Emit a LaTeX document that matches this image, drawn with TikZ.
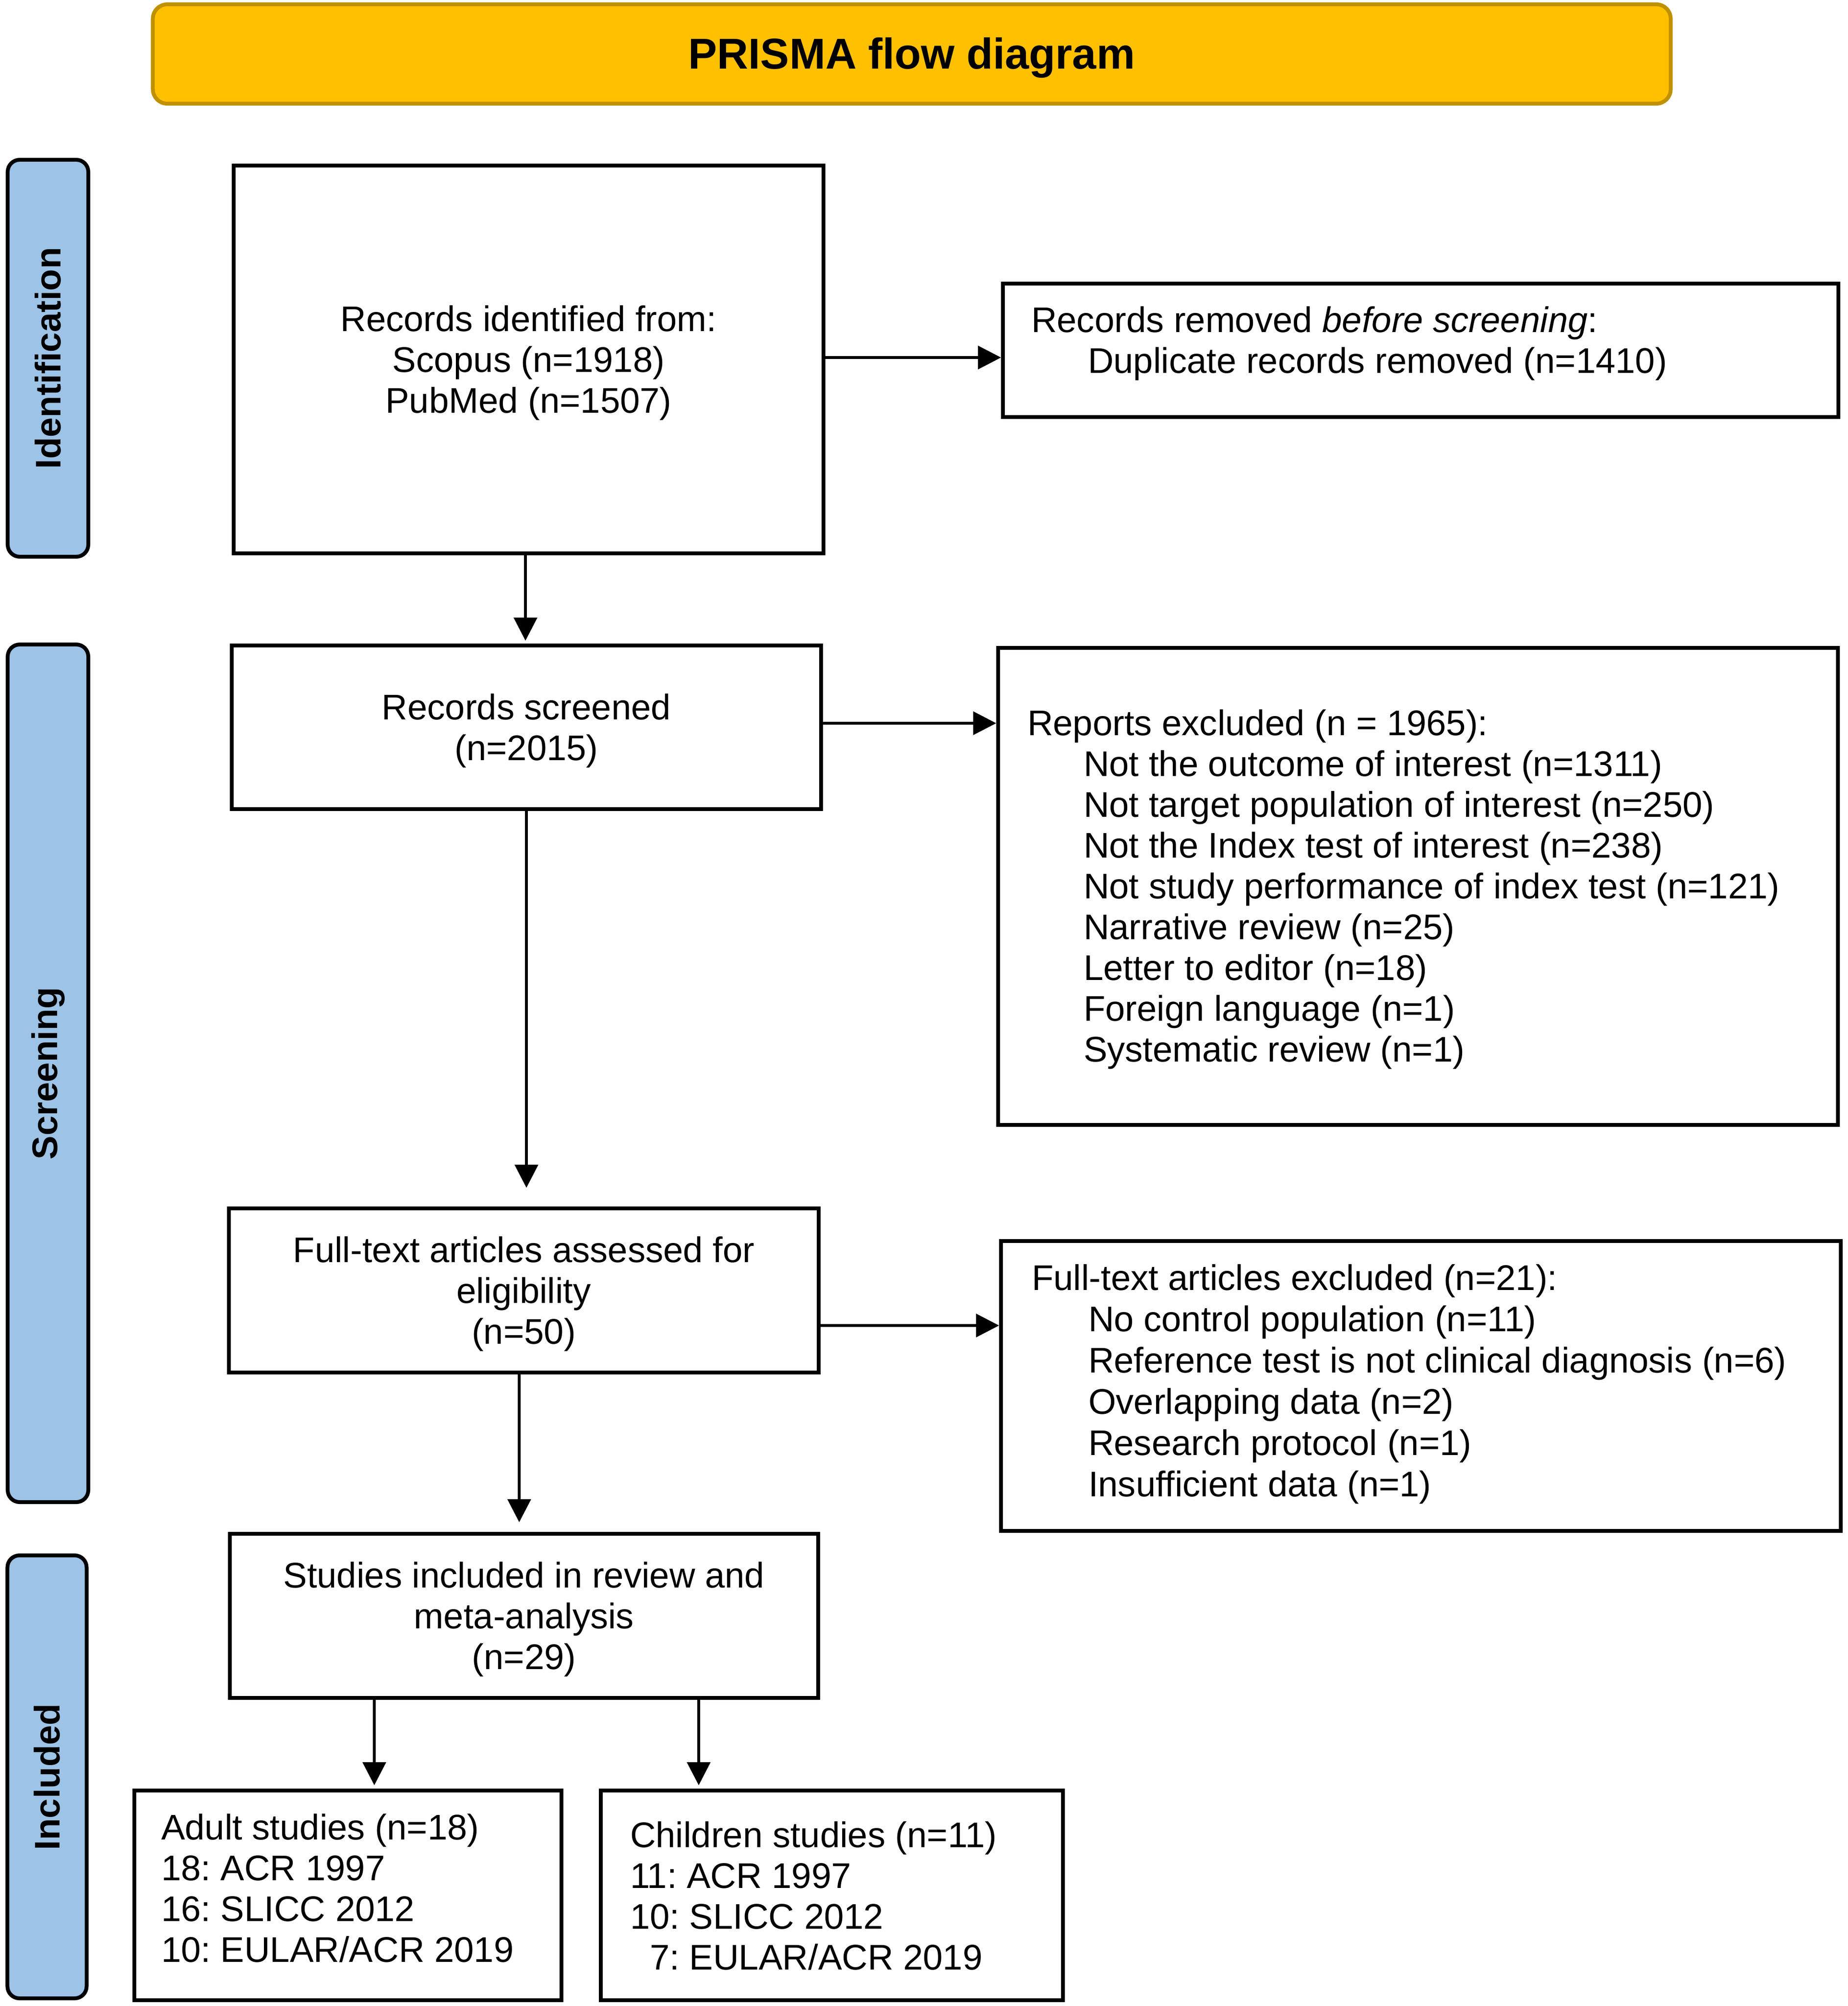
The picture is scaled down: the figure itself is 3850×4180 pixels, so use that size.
\documentclass[tikz,border=0pt]{standalone}
\usepackage{fontspec}
\setmainfont{Liberation Sans}
\usetikzlibrary{arrows.meta}
\definecolor{titlefill}{HTML}{FFC000}
\definecolor{titleline}{HTML}{BF9000}
\definecolor{bandfill}{HTML}{9DC3E6}
\newcommand\bodyfont{\fontsize{14.85pt}{17pt}\selectfont\frenchspacing}
\begin{document}
\begin{tikzpicture}[x=0.2pt,y=-0.2pt,
  box/.style={draw, line width=1.6pt, inner sep=0pt, fill=white},
  ctxt/.style={inner sep=0pt, align=center, font=\bodyfont},
  band/.style={draw, line width=1.6pt, fill=bandfill, rounded corners=5pt, inner sep=0pt},
  bandlabel/.style={rotate=90, inner sep=0pt, font=\bfseries\bodyfont},
  txt/.style={inner sep=0pt, align=left, font=\bodyfont, anchor=west},
  arr/.style={line width=1.2pt, -{Triangle[length=9.6pt,width=9.6pt]}}]
\useasboundingbox (0,0) rectangle (3850,4180);
% title
\node[draw=titleline, fill=titlefill, line width=1.6pt, rounded corners=6pt,
  minimum width=632.6pt, minimum height=41.4pt, inner sep=0pt] (title) at (1900,112.5) {};
\node[inner sep=0pt, font=\bfseries\fontsize{18pt}{21pt}\selectfont] (titletxt) at ([yshift=-1.6pt]title.center) {PRISMA flow diagram};
% side bands
\node[band, minimum width=33.6pt, minimum height=165.4pt] (bandid) at (100,746.5) {};
\node[bandlabel] (lblid) at (bandid.center) {Identification};
\node[band, minimum width=33.6pt, minimum height=357.4pt] (bandsc) at (100,2236.5) {};
\node[bandlabel] (lblsc) at (bandsc.center) {Screening};
\node[band, minimum width=33pt, minimum height=184.6pt] (bandin) at (98,3702.5) {};
\node[bandlabel] (lblin) at (bandin.center) {Included};
% main column
\node[box, minimum width=245.8pt, minimum height=161.6pt] (ident) at (1101.5,749) {};
\node[ctxt] (identtxt) at ([yshift=-1.4pt]ident.center) {Records identified from:\\Scopus (n=1918)\\PubMed (n=1507)};
\node[box, minimum width=245.6pt, minimum height=68.2pt] (screened) at (1097,1515.5) {};
\node[ctxt] (screenedtxt) at ([yshift=-1.4pt]screened.center) {Records screened\\(n=2015)};
\node[box, minimum width=245.8pt, minimum height=68.4pt] (full) at (1091.5,2689) {};
\node[ctxt] (fulltxt) at ([yshift=-1.4pt]full.center) {Full-text articles assessed for\\eligibility\\(n=50)};
\node[box, minimum width=245.2pt, minimum height=68.4pt] (incl) at (1092,3367) {};
\node[ctxt] (incltxt) at ([yshift=-1.4pt]incl.center) {Studies included in review and\\meta-analysis\\(n=29)};
\node[box, minimum width=178pt, minimum height=87.4pt] (adult) at (725,3949.5) {};
\node[txt] (adulttxt) at (335,3934)
  {Adult studies (n=18)\\18: ACR 1997\\16: SLICC 2012\\10: EULAR/ACR 2019};
\node[box, minimum width=192.6pt, minimum height=87.4pt] (child) at (1733.5,3949.5) {};
\node[txt] (childtxt) at (1312,3950)
  {Children studies (n=11)\\11: ACR 1997\\10: SLICC 2012\\\phantom{1}7: EULAR/ACR 2019};
% right column
\node[box, minimum width=348.2pt, minimum height=55.6pt] (removed) at (2960.5,730) {};
\node[txt] (removedtxt) at (2148,716)
  {Records removed \textit{before screening}:\\\hspace*{23.6pt}Duplicate records removed (n=1410)};
\node[box, minimum width=350pt, minimum height=198.8pt] (excl1) at (2955,1847) {};
\node[txt] (excl1txt) at (2140,1853)
  {Reports excluded (n = 1965):\\
   \hspace*{23.4pt}Not the outcome of interest (n=1311)\\
   \hspace*{23.4pt}Not target population of interest (n=250)\\
   \hspace*{23.4pt}Not the Index test of interest (n=238)\\
   \hspace*{23.4pt}Not study performance of index test (n=121)\\
   \hspace*{23.4pt}Narrative review (n=25)\\
   \hspace*{23.4pt}Letter to editor (n=18)\\
   \hspace*{23.4pt}Foreign language (n=1)\\
   \hspace*{23.4pt}Systematic review (n=1)};
\node[box, minimum width=350pt, minimum height=120.8pt] (excl2) at (2961,2888) {};
\node[txt, font=\fontsize{14.85pt}{17.2pt}\selectfont\frenchspacing] (excl2txt) at (2149,2884)
  {Full-text articles excluded (n=21):\\
   \hspace*{23.6pt}No control population (n=11)\\
   \hspace*{23.6pt}Reference test is not clinical diagnosis (n=6)\\
   \hspace*{23.6pt}Overlapping data (n=2)\\
   \hspace*{23.6pt}Research protocol (n=1)\\
   \hspace*{23.6pt}Insufficient data (n=1)};
% vertical arrows
\draw[arr, shorten >=1.2pt] ([xshift=-1.3pt]ident.south) -- ([xshift=-1.3pt]ident.south |- screened.north);
\draw[arr, shorten >=7.8pt] (screened.south) -- (screened.south |- full.north);
\draw[arr, shorten >=4pt] ([xshift=-1.9pt]full.south) -- ([xshift=-1.9pt]full.south |- incl.north);
\draw[arr, shorten >=1.4pt] ([xshift=-62.4pt]incl.south) -- ([xshift=-62.4pt]incl.south |- adult.north);
\draw[arr, shorten >=1.4pt] ([xshift=72.8pt]incl.south) -- ([xshift=72.8pt]incl.south |- child.north);
% horizontal arrows
\draw[arr] ([yshift=0.8pt]ident.east) -- ([yshift=0.8pt]ident.east -| removed.west);
\draw[arr] ([yshift=1.7pt]screened.east) -- ([yshift=1.7pt]screened.east -| excl1.west);
\draw[arr] ([yshift=-14.6pt]full.east) -- ([yshift=-14.6pt]full.east -| excl2.west);
\end{tikzpicture}
\end{document}
